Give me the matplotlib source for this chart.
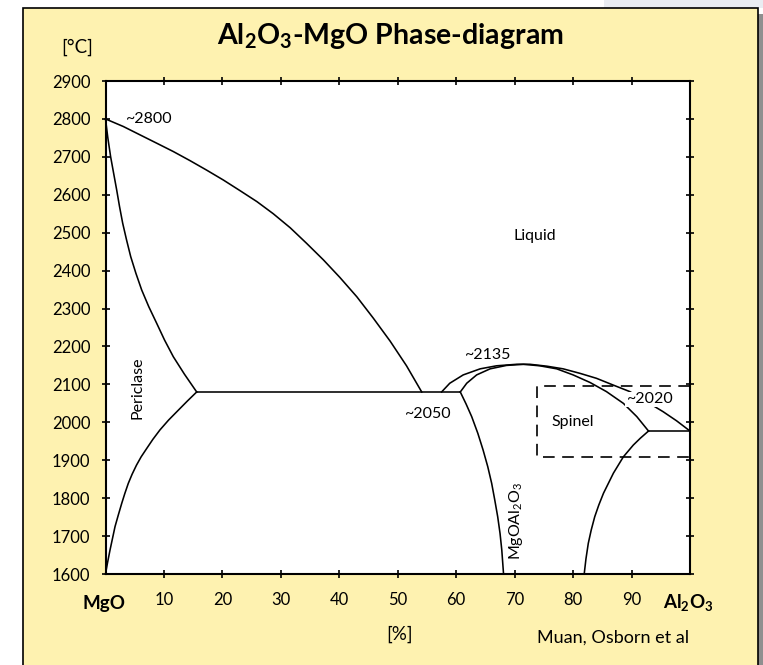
import matplotlib
matplotlib.use('Agg')
import matplotlib.pyplot as plt
from matplotlib.patches import Rectangle

plt.rcParams['font.family'] = ['Lato', 'DejaVu Sans']
plt.rcParams['mathtext.fontset'] = 'custom'
plt.rcParams['mathtext.rm'] = 'Lato'
plt.rcParams['mathtext.bf'] = 'Lato:bold'

# phase boundaries: (% Al2O3, temperature C)
liquidus_mgo = [(0, 2800), (3.05, 2780), (5.9, 2758), (8.76, 2736), (11.6, 2714),
                (14.46, 2690), (17.3, 2665), (20.15, 2639), (23.0, 2611), (25.9, 2582),
                (28.7, 2550), (31.6, 2513), (34.4, 2472), (37.3, 2428), (40.1, 2382),
                (43.0, 2331), (45.8, 2275), (48.7, 2214), (51.5, 2149), (54.1, 2080)]
periclase_upper = [(0, 2800), (0.4, 2750), (0.88, 2700), (1.4, 2656), (1.91, 2613),
                   (2.4, 2569), (2.94, 2525), (3.6, 2481), (4.31, 2437), (5.2, 2393),
                   (6.19, 2349), (7.4, 2305), (8.76, 2261), (10.1, 2217), (11.6, 2173),
                   (13.5, 2127), (15.6, 2080)]
periclase_lower = [(15.6, 2080), (14.0, 2056), (12.46, 2032), (10.8, 2006), (9.32, 1980),
                   (8.1, 1955), (7.05, 1931), (6.1, 1909), (5.3, 1887), (4.55, 1863),
                   (3.9, 1839), (3.3, 1812), (2.77, 1786), (2.2, 1756), (1.63, 1725),
                   (1.2, 1694), (0.77, 1663), (0.35, 1630), (0, 1600)]
eutectic_mgo = [(15.6, 2080), (60.7, 2080)]
liquidus_spinel = [(57.5, 2080), (58.9, 2103), (61.2, 2125), (64.1, 2141), (66.9, 2149),
                   (70.35, 2153), (72.6, 2153), (75.5, 2148), (78.3, 2141), (81.2, 2129),
                   (84.0, 2116), (86.9, 2098), (89.7, 2081), (92.6, 2054), (95.4, 2028),
                   (97.7, 2004), (100, 1977)]
solidus_spinel = [(60.7, 2080), (61.8, 2103), (63.5, 2125), (65.8, 2141), (68.6, 2150),
                  (71.5, 2153), (74.3, 2149), (77.2, 2141), (80.0, 2125), (82.9, 2105),
                  (85.7, 2081), (88.6, 2050), (90.9, 2015), (92.9, 1977)]
eutectic_al2o3 = [(92.9, 1977), (100, 1977)]
solvus_left = [(60.7, 2080), (61.7, 2048), (62.65, 2015), (63.7, 1971), (64.6, 1927),
               (65.4, 1883), (66.07, 1839), (66.6, 1795), (67.1, 1751), (67.5, 1707),
               (67.8, 1663), (68.1, 1600)]
solvus_right = [(92.9, 1977), (91.5, 1958), (90.3, 1940), (88.6, 1909), (86.9, 1866),
                (85.2, 1813), (84.4, 1782), (83.7, 1751), (83.1, 1716), (82.6, 1681),
                (82.2, 1640), (81.9, 1600)]
spinel_box = (73.8, 1909, 26.2, 187)

x_ticks = [10, 20, 30, 40, 50, 60, 70, 80, 90]
y_ticks = list(range(1600, 3000, 100))

W, H = 763, 665
fig = plt.figure(figsize=(W / 100, H / 100), dpi=100)
fig.patch.set_facecolor('white')


def fx(px):
    return px / W


def fy(py):
    return 1 - py / H


# background panel
fig.patches.append(Rectangle((fx(604), fy(8)), fx(W - 604), 8 / H, transform=fig.transFigure,
                             facecolor='#E9ECF1', edgecolor='none', zorder=-10))
fig.patches.append(Rectangle((fx(758), 0), fx(5), fy(14), transform=fig.transFigure,
                             facecolor='#8f8f8f', edgecolor='none', zorder=-10))
fig.patches.append(Rectangle((fx(23), fy(672)), fx(758 - 23), 664 / H, transform=fig.transFigure,
                             facecolor='#FEF2B0', edgecolor='black', linewidth=1.2, zorder=-9))

ax = fig.add_axes([fx(105.5), fy(574), fx(690 - 105.5), (574 - 81) / H])
ax.set_facecolor('white')
ax.set_xlim(0, 100)
ax.set_ylim(1600, 2900)
ax.set_xticks(x_ticks)
ax.set_yticks(y_ticks)
ax.tick_params(direction='inout', length=6, width=1.2, top=True, right=True,
               labelsize=12, color='black')
ax.tick_params(axis='y', pad=8)
ax.tick_params(axis='x', pad=10)
for s in ax.spines.values():
    s.set_linewidth(1.5)

for curve in [liquidus_mgo, periclase_upper, periclase_lower, eutectic_mgo, liquidus_spinel,
              solidus_spinel, eutectic_al2o3, solvus_left, solvus_right]:
    xs = [p[0] for p in curve]
    ys = [p[1] for p in curve]
    ax.plot(xs, ys, color='black', linewidth=1.15, clip_on=False, zorder=3,
            solid_joinstyle='round')

bx, by, bw, bh = spinel_box
ax.plot([bx + bw, bx, bx, bx + bw], [by + bh, by + bh, by, by], color='black',
        linewidth=1.2, linestyle=(0, (7, 4.5)), clip_on=False, zorder=2)

lab = dict(fontsize=11.5, color='black')
ax.text(3.35, 2800, '~2800', ha='left', va='center', **lab)
ax.text(73.5, 2490, 'Liquid', ha='center', va='center', **lab)
ax.text(5.4, 2092, 'Periclase', ha='center', va='center', rotation=90, **lab)
ax.text(65.3, 2177, '~2135', ha='center', va='center', **lab)
ax.text(55, 2022, '~2050', ha='center', va='center', **lab)
ax.text(80, 2002, 'Spinel', ha='center', va='center', **lab)
ax.text(93, 2061, '~2020', ha='center', va='center', zorder=4,
        bbox=dict(facecolor='white', edgecolor='none', pad=0.5), **lab)
ax.text(70.3, 1740, r'MgOAl$_\mathregular{2}$O$_\mathregular{3}$', ha='center', va='center',
        rotation=90, **lab)

fig.text(fx(390), fy(36), r'Al$_\mathbf{2}$O$_\mathbf{3}$-MgO Phase-diagram', ha='center',
         va='center', fontsize=20.5, fontweight='bold')
fig.text(fx(77), fy(47), '[°C]', ha='center', va='center', fontsize=13.5)
fig.text(fx(104), fy(604), 'MgO', ha='center', va='center', fontsize=13.5, fontweight='bold')
fig.text(fx(688), fy(603), r'Al$_\mathbf{2}$O$_\mathbf{3}$', ha='center', va='center',
         fontsize=13.5, fontweight='bold')
fig.text(fx(400), fy(634), '[%]', ha='center', va='center', fontsize=13.5)
fig.text(fx(613), fy(638), 'Muan, Osborn et al', ha='center', va='center', fontsize=13)

fig.savefig('out.png', dpi=100)
